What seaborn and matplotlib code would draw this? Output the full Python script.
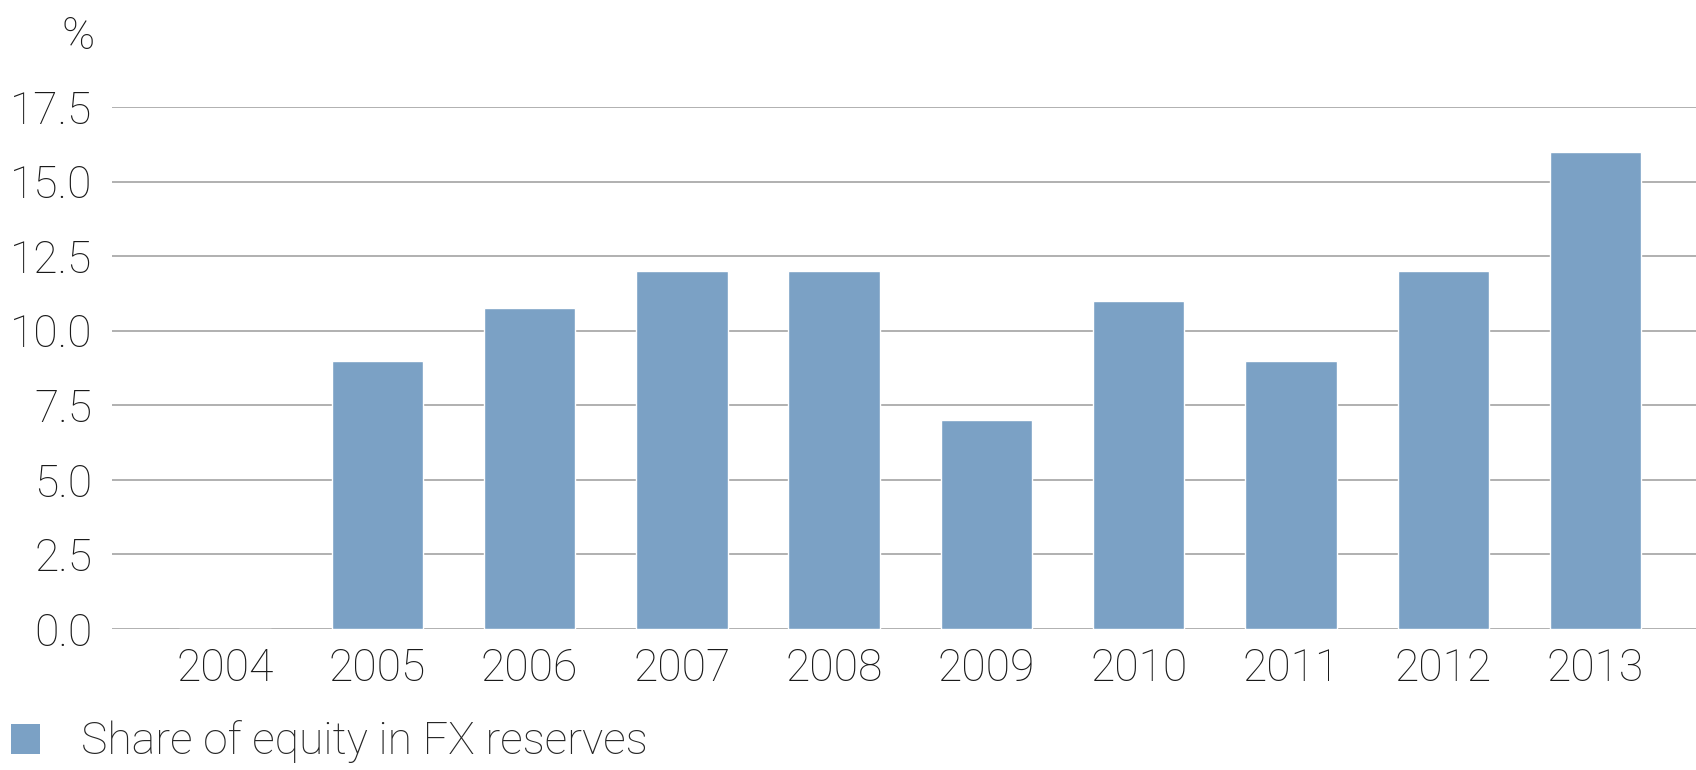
import numpy as np
import pandas as pd
import seaborn as sns
import matplotlib.pyplot as plt
from matplotlib.patches import Patch

years = ['2004', '2005', '2006', '2007', '2008', '2009', '2010', '2011', '2012', '2013']
equity_share = [0.0, 9.0, 10.75, 12.0, 12.0, 7.0, 11.0, 9.0, 12.0, 16.0]
yticks = [0.0, 2.5, 5.0, 7.5, 10.0, 12.5, 15.0, 17.5]
series_label = 'Share of equity in FX reserves'

bar_color = '#7ba1c5'
text_color = '#1a1a1a'
fs = 32

sns.set_theme(style='white')
plt.rcParams['font.family'] = ['Roboto', 'DejaVu Sans']
plt.rcParams['font.weight'] = 'light'

df = pd.DataFrame({'year': years, 'share': equity_share})

fig = plt.figure(figsize=(16.96, 7.7), dpi=100)
ax = fig.add_axes([112 / 1696, 1 - 629 / 770, 1 - 112 / 1696, (629 - 107) / 770])

sns.barplot(data=df, x='year', y='share', color=bar_color, width=0.6,
            saturation=1, ax=ax, zorder=3)

ax.set_ylim(0, 17.5)
ax.set_xlim(-0.742, 9.66)
ax.set_yticks(yticks)
ax.set_yticklabels([f'{t:.1f}' for t in yticks])
ax.yaxis.grid(True, color='#b0b0b0', linewidth=1.4, zorder=0)
ax.set_axisbelow(True)
for s in ax.spines.values():
    s.set_visible(False)
ax.set_xlabel('')
ax.set_ylabel('')
ax.tick_params(axis='y', labelsize=fs, pad=14, length=0, colors=text_color)
ax.tick_params(axis='x', labelsize=fs, pad=13, length=0, colors=text_color)

fig.text(78 / 1696, 1 - 37 / 770, '%', fontsize=fs, ha='center', va='center', color=text_color)

fig.legend(handles=[Patch(facecolor=bar_color, edgecolor='none', label=series_label)],
           loc='center left', bbox_to_anchor=(11 / 1696, 1 - 742 / 770), frameon=False,
           fontsize=fs, handlelength=0.66, handleheight=0.66, handletextpad=0.92,
           borderaxespad=0.0, borderpad=0.0)

fig.savefig('out.png', dpi=100)
